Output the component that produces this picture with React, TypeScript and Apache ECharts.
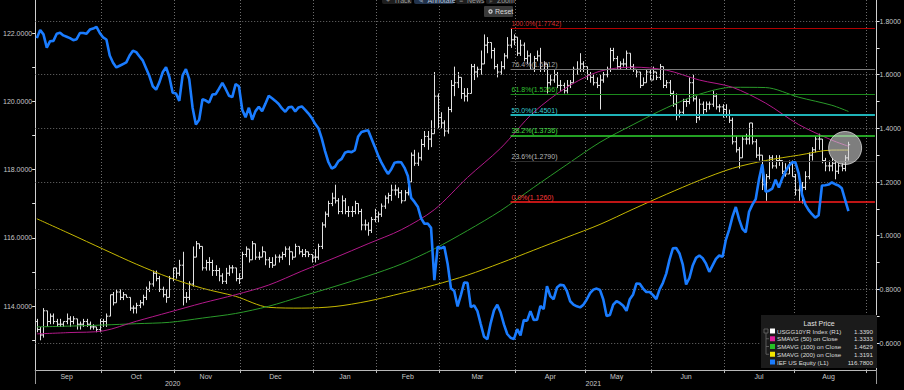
import React, { useEffect, useRef } from "react";
import * as echarts from "echarts";

// ---------- calendar (trading days shown on the x axis) ----------
const FIRST_DAY = "2020-09-02";
const LAST_DAY = "2021-09-03";
const MARKET_HOLIDAYS = [
  "2020-09-07", "2020-11-26", "2020-12-25", "2021-01-01", "2021-01-18",
  "2021-02-15", "2021-04-02", "2021-05-31", "2021-07-05",
];
const MONTH_NAMES = ["Jan", "Feb", "Mar", "Apr", "May", "Jun", "Jul", "Aug", "Sep", "Oct", "Nov", "Dec"];

// ---------- data ----------
// IEF US Equity close (left axis)
const iefClose = [
  121.85, 122.09, 121.96, 121.57, 121.76, 121.77, 121.98, 122.01, 121.93, 121.89,
  121.85, 121.79, 121.82, 122.0, 122.0, 121.98, 122.1, 122.13, 122.18, 122.0,
  121.87, 121.81, 121.34, 121.13, 120.99, 121.04, 121.09, 121.14, 121.34, 121.48,
  121.44, 121.31, 121.19, 120.96, 120.73, 120.44, 120.34, 120.56, 120.85, 121.0,
  120.71, 120.25, 120.23, 120.01, 120.76, 120.94, 120.65, 119.82, 119.32, 119.46,
  120.06, 120.02, 119.96, 120.2, 120.21, 120.37, 120.54, 120.36, 120.16, 120.12,
  120.5, 120.44, 119.75, 119.53, 119.81, 119.46, 119.71, 119.84, 119.71, 119.93,
  120.16, 120.09, 120.01, 119.92, 119.79, 119.69, 119.82, 119.84, 119.7, 119.82,
  119.85, 119.75, 119.64, 119.51, 119.34, 119.21, 118.91, 118.54, 118.22, 118.03,
  118.08, 118.24, 118.31, 118.49, 118.53, 118.51, 118.57, 118.97, 119.1, 119.13,
  119.15, 118.91, 118.67, 118.42, 118.21, 118.03, 117.87, 118.01, 118.2, 118.22,
  118.21, 118.05, 117.81, 117.17, 117.05, 116.91, 116.57, 116.41, 116.42, 116.29,
  114.76, 115.74, 115.69, 115.74, 115.24, 114.52, 114.44, 113.99, 114.32, 114.69,
  114.68, 113.97, 114.02, 113.85, 113.47, 113.1, 113.03, 113.5, 113.87, 114.04,
  113.81, 113.46, 113.18, 113.07, 113.03, 113.32, 113.14, 113.59, 113.57, 113.85,
  113.59, 113.6, 114.0, 113.91, 114.58, 114.29, 114.2, 114.54, 114.62, 114.61,
  114.44, 114.14, 114.04, 113.99, 113.96, 114.04, 114.19, 114.38, 114.48, 114.51,
  114.47, 114.19, 113.71, 113.74, 114.04, 114.14, 114.09, 114.01, 113.86, 114.2,
  114.34, 114.66, 114.65, 114.51, 114.41, 114.41, 114.32, 114.2, 114.49, 114.68,
  114.95, 115.36, 115.69, 115.7, 115.54, 115.21, 114.63, 114.82, 115.19, 115.41,
  115.48, 115.4, 115.24, 115.0, 115.19, 115.38, 115.48, 115.44, 115.94, 116.24,
  116.62, 116.9, 116.54, 116.26, 116.16, 116.76, 116.97, 117.13, 117.71, 118.15,
  117.35, 117.38, 117.44, 117.7, 117.47, 117.74, 117.94, 118.11, 118.21, 118.21,
  117.88, 117.26, 116.97, 116.81, 116.69, 116.59, 116.66, 117.53, 117.54, 117.56,
  117.62, 117.57, 117.53, 117.45, 117.11, 116.78,
];

// USGG10YR Index daily bars: [open, high, low, close] (right axis)
const yieldOHLC = [
  // Sep 2020
  [0.68, 0.69, 0.64, 0.65], [0.65, 0.66, 0.61, 0.63], [0.63, 0.73, 0.62, 0.72], [0.72, 0.72, 0.66, 0.68],
  [0.68, 0.71, 0.67, 0.7], [0.7, 0.71, 0.67, 0.68], [0.68, 0.69, 0.66, 0.67], [0.67, 0.69, 0.66, 0.67],
  [0.67, 0.68, 0.66, 0.68], [0.68, 0.71, 0.67, 0.69], [0.69, 0.7, 0.66, 0.68], [0.68, 0.7, 0.67, 0.69],
  [0.69, 0.69, 0.65, 0.67], [0.67, 0.68, 0.65, 0.67], [0.67, 0.69, 0.66, 0.68], [0.68, 0.69, 0.66, 0.67],
  [0.67, 0.68, 0.65, 0.66], [0.66, 0.67, 0.65, 0.66], [0.66, 0.66, 0.64, 0.65], [0.65, 0.69, 0.64, 0.68],
  // Oct
  [0.68, 0.69, 0.66, 0.68], [0.68, 0.71, 0.66, 0.7], [0.7, 0.78, 0.7, 0.78], [0.78, 0.79, 0.74, 0.75],
  [0.75, 0.8, 0.75, 0.79], [0.79, 0.8, 0.76, 0.77], [0.77, 0.79, 0.76, 0.78], [0.78, 0.78, 0.77, 0.77],
  [0.77, 0.77, 0.72, 0.73], [0.73, 0.74, 0.71, 0.73], [0.73, 0.75, 0.71, 0.74], [0.74, 0.76, 0.73, 0.75],
  [0.75, 0.78, 0.74, 0.77], [0.77, 0.81, 0.76, 0.8], [0.8, 0.83, 0.79, 0.82], [0.82, 0.87, 0.81, 0.86],
  [0.86, 0.87, 0.83, 0.84], [0.84, 0.85, 0.79, 0.8], [0.8, 0.81, 0.77, 0.78], [0.78, 0.8, 0.75, 0.77],
  [0.77, 0.85, 0.77, 0.84], [0.84, 0.88, 0.83, 0.88],
  // Nov
  [0.88, 0.88, 0.84, 0.86], [0.86, 0.91, 0.85, 0.89], [0.89, 0.94, 0.74, 0.77], [0.77, 0.79, 0.75, 0.77],
  [0.77, 0.83, 0.76, 0.82], [0.82, 0.96, 0.81, 0.92], [0.92, 0.98, 0.92, 0.97], [0.97, 0.97, 0.95, 0.96],
  [0.96, 0.96, 0.87, 0.88], [0.88, 0.91, 0.87, 0.9], [0.9, 0.92, 0.87, 0.9], [0.9, 0.91, 0.85, 0.87],
  [0.87, 0.89, 0.85, 0.87], [0.87, 0.88, 0.83, 0.85], [0.85, 0.86, 0.82, 0.83], [0.83, 0.88, 0.82, 0.86],
  [0.86, 0.89, 0.85, 0.88], [0.88, 0.89, 0.86, 0.88], [0.88, 0.88, 0.83, 0.84], [0.84, 0.86, 0.82, 0.84],
  // Dec
  [0.84, 0.94, 0.84, 0.93], [0.93, 0.96, 0.92, 0.95], [0.95, 0.95, 0.9, 0.91], [0.91, 0.98, 0.91, 0.97],
  [0.97, 0.97, 0.91, 0.92], [0.92, 0.94, 0.91, 0.92], [0.92, 0.96, 0.92, 0.94], [0.94, 0.94, 0.89, 0.91],
  [0.91, 0.92, 0.88, 0.9], [0.9, 0.92, 0.88, 0.89], [0.89, 0.93, 0.89, 0.92], [0.92, 0.93, 0.9, 0.92],
  [0.92, 0.94, 0.91, 0.93], [0.93, 0.96, 0.92, 0.95], [0.95, 0.96, 0.89, 0.94], [0.94, 0.94, 0.91, 0.92],
  [0.92, 0.97, 0.92, 0.96], [0.96, 0.96, 0.93, 0.94], [0.94, 0.95, 0.92, 0.93], [0.93, 0.95, 0.92, 0.94],
  [0.94, 0.94, 0.92, 0.93], [0.93, 0.93, 0.9, 0.92],
  // Jan 2021
  [0.92, 0.95, 0.9, 0.92], [0.92, 0.97, 0.91, 0.96], [0.96, 1.05, 0.95, 1.04], [1.04, 1.09, 1.03, 1.08],
  [1.08, 1.13, 1.07, 1.12], [1.12, 1.16, 1.11, 1.14], [1.14, 1.19, 1.12, 1.13], [1.13, 1.14, 1.08, 1.09],
  [1.09, 1.15, 1.08, 1.13], [1.13, 1.14, 1.08, 1.09], [1.09, 1.11, 1.07, 1.09], [1.09, 1.11, 1.07, 1.09],
  [1.09, 1.13, 1.08, 1.12], [1.12, 1.12, 1.08, 1.09], [1.09, 1.1, 1.02, 1.04], [1.04, 1.06, 1.02, 1.04],
  [1.04, 1.05, 1.0, 1.02], [1.02, 1.07, 1.01, 1.06], [1.06, 1.1, 1.05, 1.07],
  // Feb
  [1.07, 1.09, 1.05, 1.08], [1.08, 1.12, 1.07, 1.11], [1.11, 1.15, 1.1, 1.14], [1.14, 1.16, 1.12, 1.15],
  [1.15, 1.19, 1.13, 1.17], [1.17, 1.19, 1.15, 1.17], [1.17, 1.18, 1.14, 1.16], [1.16, 1.17, 1.12, 1.13],
  [1.13, 1.17, 1.13, 1.16], [1.16, 1.21, 1.15, 1.2], [1.2, 1.31, 1.2, 1.3], [1.3, 1.32, 1.26, 1.27],
  [1.27, 1.31, 1.26, 1.29], [1.29, 1.36, 1.28, 1.34], [1.34, 1.39, 1.33, 1.37], [1.37, 1.39, 1.32, 1.36],
  [1.36, 1.43, 1.33, 1.38], [1.38, 1.61, 1.38, 1.52], [1.52, 1.53, 1.4, 1.44],
  // Mar
  [1.44, 1.46, 1.4, 1.42], [1.42, 1.43, 1.37, 1.39], [1.39, 1.48, 1.38, 1.47], [1.47, 1.58, 1.46, 1.56],
  [1.56, 1.63, 1.52, 1.57], [1.57, 1.61, 1.55, 1.59], [1.59, 1.59, 1.51, 1.53], [1.53, 1.55, 1.5, 1.52],
  [1.52, 1.55, 1.5, 1.53], [1.53, 1.64, 1.53, 1.63], [1.63, 1.64, 1.58, 1.61], [1.61, 1.63, 1.59, 1.62],
  [1.62, 1.69, 1.6, 1.64], [1.64, 1.75, 1.64, 1.71], [1.71, 1.74, 1.68, 1.72], [1.72, 1.72, 1.66, 1.69],
  [1.69, 1.7, 1.62, 1.63], [1.63, 1.64, 1.59, 1.61], [1.61, 1.65, 1.6, 1.63], [1.63, 1.68, 1.62, 1.67],
  [1.67, 1.74, 1.66, 1.71], [1.71, 1.7742, 1.7, 1.73], [1.73, 1.75, 1.71, 1.74],
  // Apr
  [1.74, 1.74, 1.67, 1.68], [1.68, 1.73, 1.67, 1.71], [1.71, 1.72, 1.65, 1.66], [1.66, 1.69, 1.64, 1.67],
  [1.67, 1.68, 1.62, 1.62], [1.62, 1.67, 1.61, 1.66], [1.66, 1.69, 1.65, 1.67], [1.67, 1.7, 1.61, 1.62],
  [1.62, 1.65, 1.61, 1.64], [1.64, 1.64, 1.53, 1.57], [1.57, 1.6, 1.56, 1.58], [1.58, 1.62, 1.57, 1.6],
  [1.6, 1.61, 1.55, 1.56], [1.56, 1.58, 1.54, 1.56], [1.56, 1.57, 1.53, 1.54], [1.54, 1.58, 1.53, 1.56],
  [1.56, 1.58, 1.55, 1.57], [1.57, 1.63, 1.57, 1.62], [1.62, 1.65, 1.6, 1.62], [1.62, 1.68, 1.61, 1.64],
  [1.64, 1.65, 1.61, 1.63],
  // May
  [1.63, 1.63, 1.58, 1.6], [1.6, 1.61, 1.57, 1.59], [1.59, 1.6, 1.56, 1.57], [1.57, 1.59, 1.55, 1.56],
  [1.56, 1.6, 1.47, 1.58], [1.58, 1.61, 1.57, 1.6], [1.6, 1.63, 1.59, 1.62], [1.62, 1.7, 1.61, 1.69],
  [1.69, 1.7, 1.65, 1.66], [1.66, 1.67, 1.62, 1.63], [1.63, 1.65, 1.62, 1.64], [1.64, 1.66, 1.63, 1.64],
  [1.64, 1.69, 1.62, 1.68], [1.68, 1.68, 1.62, 1.63], [1.63, 1.64, 1.61, 1.62], [1.62, 1.62, 1.59, 1.61],
  [1.61, 1.61, 1.55, 1.56], [1.56, 1.59, 1.56, 1.57], [1.57, 1.62, 1.57, 1.61], [1.61, 1.62, 1.58, 1.58],
  // Jun
  [1.58, 1.63, 1.58, 1.61], [1.61, 1.61, 1.58, 1.59], [1.59, 1.64, 1.58, 1.63], [1.63, 1.63, 1.55, 1.56],
  [1.56, 1.58, 1.55, 1.57], [1.57, 1.58, 1.52, 1.53], [1.53, 1.54, 1.48, 1.49], [1.49, 1.53, 1.43, 1.45],
  [1.45, 1.47, 1.44, 1.46], [1.46, 1.51, 1.45, 1.5], [1.5, 1.51, 1.48, 1.5], [1.5, 1.59, 1.49, 1.57],
  [1.57, 1.6, 1.5, 1.51], [1.51, 1.52, 1.42, 1.44], [1.44, 1.51, 1.43, 1.49], [1.49, 1.5, 1.45, 1.47],
  [1.47, 1.5, 1.46, 1.49], [1.49, 1.5, 1.47, 1.49], [1.49, 1.54, 1.48, 1.52], [1.52, 1.53, 1.47, 1.48],
  [1.48, 1.49, 1.46, 1.48], [1.48, 1.49, 1.44, 1.47],
  // Jul
  [1.47, 1.49, 1.44, 1.45], [1.45, 1.47, 1.42, 1.43], [1.43, 1.44, 1.34, 1.35], [1.35, 1.37, 1.31, 1.32],
  [1.32, 1.33, 1.25, 1.29], [1.29, 1.37, 1.29, 1.36], [1.36, 1.38, 1.34, 1.36], [1.36, 1.42, 1.34, 1.42],
  [1.42, 1.42, 1.34, 1.35], [1.35, 1.36, 1.29, 1.3], [1.3, 1.33, 1.28, 1.3], [1.3, 1.3, 1.17, 1.19],
  [1.19, 1.23, 1.13, 1.22], [1.22, 1.3, 1.21, 1.29], [1.29, 1.3, 1.25, 1.26], [1.26, 1.3, 1.25, 1.28],
  [1.28, 1.3, 1.26, 1.28], [1.28, 1.28, 1.23, 1.24], [1.24, 1.27, 1.22, 1.23], [1.23, 1.28, 1.23, 1.27],
  [1.27, 1.28, 1.22, 1.22],
  // Aug
  [1.22, 1.23, 1.15, 1.17], [1.17, 1.19, 1.13, 1.17], [1.17, 1.2, 1.12, 1.18], [1.18, 1.24, 1.17, 1.22],
  [1.22, 1.31, 1.21, 1.3], [1.3, 1.33, 1.28, 1.32], [1.32, 1.37, 1.31, 1.36], [1.36, 1.38, 1.32, 1.36],
  [1.36, 1.36, 1.27, 1.28], [1.28, 1.29, 1.24, 1.26], [1.26, 1.28, 1.24, 1.26], [1.26, 1.29, 1.24, 1.27],
  [1.27, 1.28, 1.21, 1.24], [1.24, 1.27, 1.23, 1.26], [1.26, 1.27, 1.24, 1.25], [1.25, 1.3, 1.24, 1.29],
  [1.29, 1.35, 1.28, 1.339],
];

// Simple moving averages on close (right axis)
const sma50Points: [string, number][] = [
  ["2020-09-02", 0.634], ["2020-09-17", 0.639], ["2020-10-01", 0.645], ["2020-10-15", 0.681],
  ["2020-10-29", 0.715], ["2020-11-12", 0.749], ["2020-11-27", 0.78], ["2020-12-11", 0.816],
  ["2020-12-28", 0.868], ["2021-01-12", 0.918], ["2021-01-27", 0.97], ["2021-02-10", 1.022],
  ["2021-02-25", 1.097], ["2021-03-11", 1.217], ["2021-03-25", 1.326], ["2021-04-09", 1.46],
  ["2021-04-23", 1.553], ["2021-05-07", 1.613], ["2021-05-21", 1.628], ["2021-06-07", 1.617],
  ["2021-06-21", 1.58], ["2021-07-06", 1.553], ["2021-07-20", 1.494], ["2021-08-03", 1.414],
  ["2021-08-17", 1.356], ["2021-08-24", 1.3333],
];
const sma100Points: [string, number][] = [
  ["2020-09-02", 0.66], ["2020-09-17", 0.663], ["2020-10-01", 0.667], ["2020-10-15", 0.672],
  ["2020-10-29", 0.677], ["2020-11-12", 0.693], ["2020-11-27", 0.71], ["2020-12-11", 0.737],
  ["2020-12-28", 0.774], ["2021-01-12", 0.811], ["2021-01-27", 0.85], ["2021-02-10", 0.894],
  ["2021-02-25", 0.951], ["2021-03-11", 1.019], ["2021-03-25", 1.093], ["2021-04-09", 1.18],
  ["2021-04-23", 1.265], ["2021-05-07", 1.348], ["2021-05-21", 1.414], ["2021-06-07", 1.476],
  ["2021-06-21", 1.527], ["2021-07-06", 1.553], ["2021-07-20", 1.552], ["2021-08-03", 1.516],
  ["2021-08-17", 1.486], ["2021-08-24", 1.4629],
];
const sma200Points: [string, number][] = [
  ["2020-09-02", 1.063], ["2020-09-17", 1.007], ["2020-10-01", 0.95], ["2020-10-15", 0.894],
  ["2020-10-29", 0.844], ["2020-11-12", 0.804], ["2020-11-27", 0.774], ["2020-12-11", 0.733],
  ["2020-12-28", 0.73], ["2021-01-12", 0.736], ["2021-01-27", 0.756], ["2021-02-10", 0.785],
  ["2021-02-25", 0.816], ["2021-03-11", 0.853], ["2021-03-25", 0.898], ["2021-04-09", 0.946],
  ["2021-04-23", 0.994], ["2021-05-07", 1.042], ["2021-05-21", 1.099], ["2021-06-07", 1.154],
  ["2021-06-21", 1.206], ["2021-07-06", 1.251], ["2021-07-20", 1.28], ["2021-08-03", 1.3],
  ["2021-08-17", 1.319], ["2021-08-24", 1.3191],
];

// Fibonacci retracement
const fibLow = 1.126;
const fibHigh = 1.7742;
const fibLevels = [1, 0.764, 0.618, 0.5, 0.382, 0.236, 0];

// Axis ticks / labels
const leftLabelValues = [114, 116, 118, 120, 122];
const leftTickValues = [113, 114, 115, 116, 117, 118, 119, 120, 121, 122];
const rightLabelValues = [0.6, 0.8, 1.0, 1.2, 1.4, 1.6, 1.8];
const rightTickValues = [0.6, 0.7, 0.8, 0.9, 1.0, 1.1, 1.2, 1.3, 1.4, 1.5, 1.6, 1.7, 1.8];
const gridLineValues = [0.6, 0.8, 1.2, 1.4, 1.6, 1.8];

// Highlighted area (grey circle)
const highlightPoint: [string, number] = ["2021-08-23", 1.3267];

// Legend
const legendNames = [
  "USGG10YR Index (R1)",
  "SMAVG (50) on Close",
  "SMAVG (100) on Close",
  "SMAVG (200) on Close",
  "IEF US Equity (L1)",
];

// ---------- styles ----------
const FONT = "'Liberation Sans', Arial, sans-serif";
const AXIS_TEXT = "#c8c8c8";
const FIB_LINE_STYLE = [
  { color: "#b00000", width: 1 },
  { color: "#7c7c7c", width: 1 },
  { color: "#1c8a1c", width: 1 },
  { color: "#1fb3b8", width: 2.2 },
  { color: "#2fd62f", width: 1.5 },
  { color: "#2e2e2e", width: 1 },
  { color: "#ff1c1c", width: 1.5 },
];
const FIB_TEXT_COLOR = ["#d42a2a", "#a8a8a8", "#33c233", "#38cfd4", "#44e044", "#b8b8b8", "#ff3a3a"];
const LEGEND_SWATCH = ["#ffffff", "#e01c9c", "#25c025", "#f0e400", "#1a7cff"];

function buildTradingDays(): string[] {
  const out: string[] = [];
  const d = new Date(FIRST_DAY + "T00:00:00Z");
  const end = new Date(LAST_DAY + "T00:00:00Z");
  while (d <= end) {
    const wd = d.getUTCDay();
    const s = d.toISOString().slice(0, 10);
    if (wd !== 0 && wd !== 6 && MARKET_HOLIDAYS.indexOf(s) < 0) out.push(s);
    d.setUTCDate(d.getUTCDate() + 1);
  }
  return out;
}

function buildOption() {
  const dates = buildTradingDays();

  // month / year groupings for axis labels and separators
  const monthStarts = new Set<number>();
  const monthMids = new Set<number>();
  const yearStarts = new Set<number>();
  const yearMids = new Set<number>();
  const mGroups: { s: number; e: number }[] = [];
  const yGroups: { s: number; e: number }[] = [];
  dates.forEach((d, i) => {
    if (i === 0 || d.slice(0, 7) !== dates[i - 1].slice(0, 7)) mGroups.push({ s: i, e: i });
    else mGroups[mGroups.length - 1].e = i;
    if (i === 0 || d.slice(0, 4) !== dates[i - 1].slice(0, 4)) yGroups.push({ s: i, e: i });
    else yGroups[yGroups.length - 1].e = i;
  });
  mGroups.forEach((g, gi) => {
    if (gi > 0) monthStarts.add(g.s);
    if (g.e - g.s >= 9) monthMids.add(Math.floor((g.s + g.e) / 2));
  });
  yGroups.forEach((g, gi) => {
    if (gi > 0) yearStarts.add(g.s);
    yearMids.add(Math.floor((g.s + g.e) / 2));
  });

  const iefData = iefClose.map((v, i) => [dates[i], v]);
  const barData = yieldOHLC.map((r, i) => [dates[i], r[0], r[1], r[2], r[3]]);

  // fib anchor = highest high
  let hiIdx = 0;
  yieldOHLC.forEach((r, i) => {
    if (r[1] > yieldOHLC[hiIdx][1]) hiIdx = i;
  });
  const fibStart = dates[hiIdx];
  const fibEnd = dates[dates.length - 1];

  const lastYield = yieldOHLC[yieldOHLC.length - 1][3];
  const lastIef = iefClose[iefClose.length - 1];
  const last50 = sma50Points[sma50Points.length - 1][1];
  const last100 = sma100Points[sma100Points.length - 1][1];
  const last200 = sma200Points[sma200Points.length - 1][1];
  const legendValues = [lastYield, last50, last100, last200, lastIef];

  const valueBox = (value: number, bg: string, fg: string, pos: "start" | "end") => ({
    yAxis: value,
    lineStyle: { opacity: 0, width: 0 },
    label: {
      show: true,
      position: pos,
      distance: 2,
      formatter: value.toFixed(4),
      backgroundColor: bg,
      color: fg,
      fontSize: 7,
      fontFamily: FONT,
      padding: [1, 2, 1, 2],
      borderRadius: 1,
    },
  });

  const fibLines = fibLevels.map((lvl, k) => {
    const v = fibLow + (fibHigh - fibLow) * lvl;
    return [
      {
        coord: [fibStart, v],
        lineStyle: { color: FIB_LINE_STYLE[k].color, width: FIB_LINE_STYLE[k].width, type: "solid" },
        label: {
          show: true,
          position: "insideStartTop",
          distance: 1,
          formatter: `${(lvl * 100).toFixed(1)}%(${v.toFixed(4)})`,
          color: FIB_TEXT_COLOR[k],
          fontSize: 7,
          fontFamily: FONT,
        },
      },
      { coord: [fibEnd, v] },
    ];
  });

  // ----- legend & toolbar graphics -----
  const LX = 761, LY = 315, LW = 116, LH = 53;
  const rowY = (i: number) => LY + 16 + i * 7.75;
  const legendEls: any[] = [
    { type: "rect", z: 100, shape: { x: LX, y: LY, width: LW, height: LH }, style: { fill: "#1b1b1b" } },
    {
      type: "text", z: 101, x: LX + LW / 2, y: LY + 8,
      style: { text: "Last Price", fill: "#e2e2e2", fontSize: 7, fontFamily: FONT, align: "center", verticalAlign: "middle" },
    },
    { type: "line", z: 101, shape: { x1: LX + 5, y1: rowY(0), x2: LX + 5, y2: rowY(3) }, style: { stroke: "#6a6a6a", lineWidth: 0.8 } },
    { type: "rect", z: 101, shape: { x: LX + 3, y: rowY(0) - 2, width: 4, height: 4 }, style: { fill: "#1b1b1b", stroke: "#6a6a6a", lineWidth: 0.8 } },
  ];
  legendNames.forEach((name, i) => {
    const y = rowY(i);
    if (i > 0 && i < 4)
      legendEls.push({ type: "line", z: 101, shape: { x1: LX + 5, y1: y, x2: LX + 8, y2: y }, style: { stroke: "#6a6a6a", lineWidth: 0.8 } });
    legendEls.push({ type: "rect", z: 101, shape: { x: LX + 9, y: y - 2.5, width: 5, height: 5 }, style: { fill: LEGEND_SWATCH[i] } });
    legendEls.push({
      type: "text", z: 101, x: LX + 16, y,
      style: { text: name, fill: "#dcdcdc", fontSize: 6.2, fontFamily: FONT, align: "left", verticalAlign: "middle" },
    });
    legendEls.push({
      type: "text", z: 101, x: LX + LW - 4, y,
      style: { text: legendValues[i].toFixed(4), fill: "#dcdcdc", fontSize: 6.2, fontFamily: FONT, align: "right", verticalAlign: "middle" },
    });
  });

  const toolbarEls: any[] = [
    { type: "rect", z: 100, shape: { x: 382, y: -6, width: 30, height: 10, r: 2 }, style: { fill: "#1e1e1e" } },
    { type: "rect", z: 100, shape: { x: 414, y: -6, width: 40, height: 10, r: 2 }, style: { fill: "#22334c" } },
    { type: "rect", z: 100, shape: { x: 456, y: -6, width: 28, height: 10, r: 2 }, style: { fill: "#1e1e1e" } },
    { type: "rect", z: 100, shape: { x: 486, y: -6, width: 28, height: 10, r: 2 }, style: { fill: "#1e1e1e" } },
    { type: "text", z: 101, x: 386, y: 0, style: { text: "+  Track", fill: "#9a9a9a", fontSize: 7, fontFamily: FONT, verticalAlign: "middle" } },
    { type: "text", z: 101, x: 418, y: 0, style: { text: "✎  Annotate", fill: "#b8c4d8", fontSize: 7, fontFamily: FONT, verticalAlign: "middle" } },
    { type: "text", z: 101, x: 459, y: 0, style: { text: "≡  News", fill: "#9a9a9a", fontSize: 7, fontFamily: FONT, verticalAlign: "middle" } },
    { type: "text", z: 101, x: 489, y: 0, style: { text: "⌕  Zoom", fill: "#9a9a9a", fontSize: 7, fontFamily: FONT, verticalAlign: "middle" } },
    { type: "rect", z: 100, shape: { x: 484, y: 6, width: 29, height: 11, r: 1 }, style: { fill: "#3a3a3a" } },
    { type: "circle", z: 101, shape: { cx: 490.5, cy: 11.5, r: 2.2 }, style: { fill: "#d0d0d0" } },
    { type: "circle", z: 102, shape: { cx: 490.5, cy: 11.5, r: 0.9 }, style: { fill: "#3a3a3a" } },
    { type: "text", z: 101, x: 495, y: 11.8, style: { text: "Reset", fill: "#d8d8d8", fontSize: 7, fontFamily: FONT, verticalAlign: "middle" } },
  ];

  return {
    animation: false,
    backgroundColor: "#000000",
    textStyle: { fontFamily: FONT, color: AXIS_TEXT },
    grid: { left: 30, right: 26, top: 0, bottom: 20, containLabel: false },
    xAxis: [
      {
        type: "category",
        data: dates,
        boundaryGap: true,
        axisLine: { show: true, lineStyle: { color: "#b8b8b8", width: 1 } },
        axisTick: { show: true, interval: (i: number) => monthStarts.has(i), length: 3, lineStyle: { color: "#b8b8b8" } },
        axisLabel: {
          show: true,
          interval: (i: number) => monthMids.has(i),
          formatter: (v: string) => MONTH_NAMES[parseInt(v.slice(5, 7), 10) - 1],
          fontSize: 7,
          color: AXIS_TEXT,
          margin: 3,
          fontFamily: FONT,
        },
        splitLine: {
          show: true,
          interval: (i: number) => monthStarts.has(i),
          lineStyle: { color: "#6c6c6c", type: [1, 2], width: 1 },
        },
      },
      {
        type: "category",
        data: dates,
        boundaryGap: true,
        position: "bottom",
        axisLine: { show: false },
        axisTick: { show: true, interval: (i: number) => yearStarts.has(i), length: 14, lineStyle: { color: "#9a9a9a" } },
        axisLabel: {
          show: true,
          interval: (i: number) => yearMids.has(i),
          formatter: (v: string) => v.slice(0, 4),
          fontSize: 7,
          color: AXIS_TEXT,
          margin: 10,
          fontFamily: FONT,
        },
        splitLine: { show: false },
      },
    ],
    yAxis: [
      {
        type: "value",
        position: "left",
        min: 112.125,
        max: 122.967,
        axisLine: { show: true, lineStyle: { color: "#cfcfcf", width: 1 } },
        axisTick: { show: true, length: 3, customValues: leftTickValues, lineStyle: { color: "#e6e6e6" } },
        axisLabel: {
          show: true,
          customValues: leftLabelValues,
          formatter: (v: number) => v.toFixed(4),
          fontSize: 7,
          color: AXIS_TEXT,
          margin: 3,
          fontFamily: FONT,
        },
        splitLine: { show: false },
      },
      {
        type: "value",
        position: "right",
        min: 0.4994,
        max: 1.8783,
        axisLine: { show: true, lineStyle: { color: "#cfcfcf", width: 1 } },
        axisTick: { show: true, length: 3, customValues: rightTickValues, lineStyle: { color: "#e6e6e6" } },
        axisLabel: {
          show: true,
          customValues: rightLabelValues,
          formatter: (v: number) => v.toFixed(4),
          fontSize: 7,
          color: AXIS_TEXT,
          margin: 3,
          fontFamily: FONT,
        },
        splitLine: { show: false },
      },
    ],
    series: [
      {
        name: "SMAVG (200) on Close",
        type: "line",
        yAxisIndex: 1,
        data: sma200Points,
        showSymbol: false,
        smooth: 0.3,
        lineStyle: { color: "#c6b800", width: 1 },
        itemStyle: { color: "#c6b800" },
        silent: true,
        markLine: {
          silent: true,
          symbol: ["none", "none"],
          animation: false,
          data: [
            ...gridLineValues.map((v) => ({
              yAxis: v,
              lineStyle: { color: "#6c6c6c", type: [1, 2], width: 1 },
              label: { show: false },
            })),
            valueBox(last200, "#e8dc00", "#000", "end"),
          ],
        },
      },
      {
        name: "SMAVG (100) on Close",
        type: "line",
        yAxisIndex: 1,
        data: sma100Points,
        showSymbol: false,
        smooth: 0.3,
        lineStyle: { color: "#2a9a2a", width: 1 },
        itemStyle: { color: "#2a9a2a" },
        silent: true,
        markLine: {
          silent: true,
          symbol: ["none", "none"],
          animation: false,
          data: [...fibLines, valueBox(last100, "#2eb34a", "#ffffff", "end")],
        },
      },
      {
        name: "SMAVG (50) on Close",
        type: "line",
        yAxisIndex: 1,
        data: sma50Points,
        showSymbol: false,
        smooth: 0.3,
        lineStyle: { color: "#b3198a", width: 1 },
        itemStyle: { color: "#b3198a" },
        silent: true,
        markLine: {
          silent: true,
          symbol: ["none", "none"],
          animation: false,
          data: [valueBox(last50, "#c8168e", "#fff", "end")],
        },
      },
      {
        name: "USGG10YR Index (R1)",
        type: "custom",
        yAxisIndex: 1,
        data: barData,
        encode: { x: 0, y: [1, 2, 3, 4] },
        clip: true,
        silent: true,
        renderItem: (_params: any, api: any) => {
          const xi = api.value(0);
          const x = Math.round(api.coord([xi, 1])[0]) + 0.5;
          const yo = api.coord([xi, api.value(1)])[1];
          const yh = api.coord([xi, api.value(2)])[1];
          const yl = api.coord([xi, api.value(3)])[1];
          const yc = api.coord([xi, api.value(4)])[1];
          const style = { stroke: "#e2e2e2", lineWidth: 1 };
          return {
            type: "group",
            children: [
              { type: "line", shape: { x1: x, y1: yh, x2: x, y2: yl }, style },
              { type: "line", shape: { x1: x - 1.7, y1: yo, x2: x, y2: yo }, style },
              { type: "line", shape: { x1: x, y1: yc, x2: x + 1.7, y2: yc }, style },
            ],
          };
        },
        markLine: {
          silent: true,
          symbol: ["none", "none"],
          animation: false,
          data: [valueBox(lastYield, "#f4f4f4", "#000", "end")],
        },
        markPoint: {
          silent: true,
          animation: false,
          data: [
            {
              coord: highlightPoint,
              symbol: "circle",
              symbolSize: 33,
              itemStyle: { color: "rgba(210,210,210,0.6)", borderColor: "rgba(235,235,235,0.7)", borderWidth: 1 },
              label: { show: false },
            },
          ],
        },
      },
      {
        name: "IEF US Equity (L1)",
        type: "line",
        yAxisIndex: 0,
        data: iefData,
        showSymbol: false,
        lineStyle: { color: "#1a7cff", width: 2.6 },
        itemStyle: { color: "#1a7cff" },
        silent: true,
        z: 5,
        markLine: {
          silent: true,
          symbol: ["none", "none"],
          animation: false,
          data: [valueBox(lastIef, "#1a7cff", "#ffffff", "start")],
        },
      },
    ],
    graphic: [...toolbarEls, ...legendEls],
  };
}

export default function App() {
  const ref = useRef<HTMLDivElement>(null);
  useEffect(() => {
    document.body.style.margin = "0";
    document.body.style.background = "#000";
    if (!ref.current) return;
    const chart = echarts.init(ref.current, undefined, { renderer: "svg" });
    chart.setOption(buildOption() as any);
    return () => chart.dispose();
  }, []);
  return (
    <div
      ref={ref}
      style={{ position: "fixed", left: 0, top: 0, width: 904, height: 390, background: "#000" }}
    />
  );
}
